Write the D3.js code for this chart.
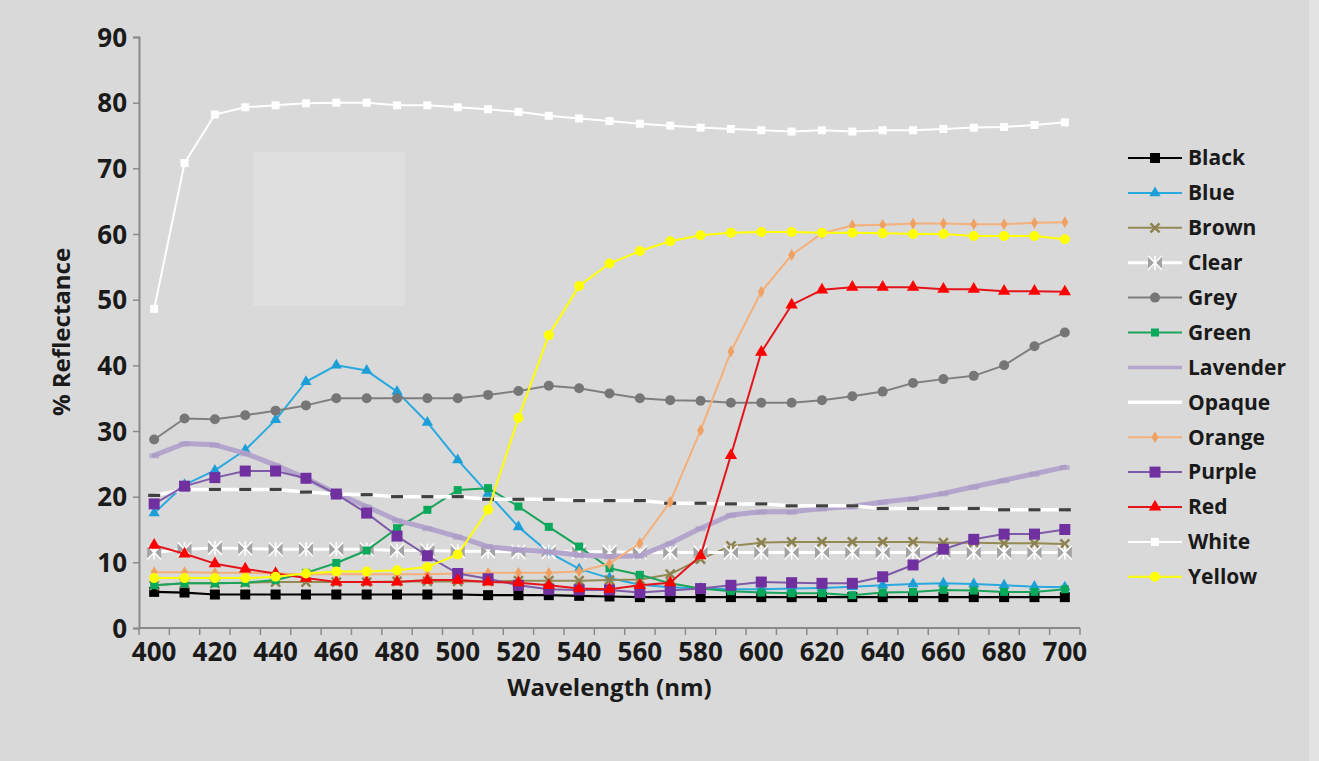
<!DOCTYPE html>
<html>
<head>
<meta charset="utf-8">
<script src="https://cdn.jsdelivr.net/npm/d3@7"></script>
<style>
  html, body { margin: 0; padding: 0; background: #d9d9d9; }
  svg { display: block; }
  text { font-family: "Open Sans", "DejaVu Sans", sans-serif; font-weight: 700; fill: #1a1a1a; }
</style>
</head>
<body>
<svg id="chart" width="1319" height="761"></svg>
<script>
// ---------------- DATA ----------------
const wavelengths = [400,410,420,430,440,450,460,470,480,490,500,510,520,530,540,550,560,570,580,590,600,610,620,630,640,650,660,670,680,690,700];
const xTickLabels = [400,420,440,460,480,500,520,540,560,580,600,620,640,660,680,700];
const yTicks = [0,10,20,30,40,50,60,70,80,90];
const seriesNames = ["Black","Blue","Brown","Clear","Grey","Green","Lavender","Opaque","Orange","Purple","Red","White","Yellow"];

const black    = [5.5,5.4,5.1,5.1,5.1,5.1,5.1,5.1,5.1,5.1,5.1,5.0,5.0,5.0,4.9,4.8,4.7,4.7,4.7,4.7,4.7,4.7,4.7,4.7,4.7,4.7,4.7,4.7,4.7,4.7,4.7];
const blue     = [17.5,21.8,24.0,27.1,31.7,37.5,40.0,39.2,36.0,31.3,25.6,20.5,15.4,11.5,9.0,7.6,6.6,6.2,6.0,5.9,5.9,6.0,6.1,6.3,6.5,6.7,6.8,6.7,6.5,6.3,6.2];
const brown    = [6.5,6.8,6.8,6.9,7.0,7.0,7.0,7.0,7.1,7.1,7.1,7.1,7.2,7.2,7.2,7.3,7.4,8.2,10.5,12.5,13.0,13.1,13.1,13.1,13.1,13.1,13.0,13.0,12.9,12.9,12.8];
const clear    = [11.5,12.0,12.2,12.1,12.0,12.0,12.0,12.0,11.8,11.8,11.7,11.7,11.6,11.6,11.6,11.6,11.5,11.5,11.5,11.5,11.5,11.5,11.5,11.5,11.5,11.5,11.5,11.5,11.5,11.5,11.5];
const grey     = [28.7,31.9,31.8,32.4,33.1,33.9,35.0,35.0,35.0,35.0,35.0,35.5,36.1,36.9,36.5,35.7,35.0,34.7,34.6,34.3,34.3,34.3,34.7,35.3,36.0,37.3,37.9,38.4,40.0,42.9,45.0];
const green    = [6.5,6.8,6.8,6.9,7.3,8.4,9.9,11.8,15.2,18.0,21.0,21.3,18.5,15.4,12.4,9.1,8.1,6.8,6.0,5.6,5.4,5.3,5.3,5.0,5.4,5.5,5.8,5.7,5.5,5.5,5.9];
const lavender = [26.3,28.1,27.9,26.6,24.8,22.8,20.5,18.5,16.4,15.2,13.9,12.4,11.9,11.6,11.1,10.9,11.0,12.9,15.2,17.2,17.7,17.7,18.2,18.5,19.2,19.7,20.5,21.5,22.5,23.5,24.5];
const opaque   = [20.2,21.1,21.1,21.1,21.1,20.7,20.4,20.3,20.0,20.0,20.0,19.6,19.6,19.6,19.4,19.4,19.4,19.0,19.0,18.9,18.9,18.6,18.6,18.6,18.2,18.2,18.2,18.2,18.0,18.0,18.0];
const orange   = [8.5,8.5,8.4,8.4,8.3,8.2,8.2,8.2,8.2,8.2,8.3,8.4,8.4,8.4,8.6,9.8,12.9,19.2,30.1,42.1,51.2,56.8,60.1,61.3,61.4,61.6,61.6,61.5,61.5,61.7,61.8];
const purple   = [18.9,21.6,22.9,23.9,23.9,22.8,20.4,17.5,14.0,11.0,8.3,7.5,6.5,5.9,5.8,5.8,5.4,5.7,6.0,6.5,7.0,6.9,6.8,6.8,7.8,9.6,12.0,13.5,14.3,14.3,15.0];
const red      = [12.6,11.3,9.8,9.0,8.3,7.6,7.0,7.0,7.0,7.3,7.3,7.0,6.9,6.5,6.0,5.9,6.5,6.9,11.0,26.3,42.0,49.2,51.5,51.9,51.9,51.9,51.6,51.6,51.3,51.3,51.2];
const white    = [48.6,70.8,78.2,79.3,79.6,79.9,80.0,80.0,79.6,79.6,79.3,79.0,78.6,78.0,77.6,77.2,76.8,76.5,76.2,76.0,75.8,75.6,75.8,75.6,75.8,75.8,76.0,76.2,76.3,76.6,77.0];
const yellow   = [7.6,7.6,7.6,7.6,7.8,8.3,8.6,8.6,8.8,9.3,11.2,18.0,32.0,44.6,52.1,55.5,57.4,58.9,59.8,60.2,60.3,60.3,60.2,60.2,60.1,60.0,60.0,59.7,59.7,59.7,59.2];

const seriesValues = [black, blue, brown, clear, grey, green, lavender, opaque, orange, purple, red, white, yellow];

// ---------------- STYLES ----------------
const styles = {
  Black:    {line:"#000000", lw:2.2, marker:"square",   mfill:"#000000", ms:10},
  Blue:     {line:"#2aa9df", lw:2,   marker:"triangle", mfill:"#1c9fd9", ms:10},
  Brown:    {line:"#948a54", lw:2,   marker:"x",        mfill:"#8c8250", ms:9},
  Clear:    {line:"#ffffff", lw:3,   marker:"star",     mfill:"#a3a3a3", ms:14},
  Grey:     {line:"#7f7f7f", lw:2,   marker:"circle",   mfill:"#767676", ms:10},
  Green:    {line:"#1aa35a", lw:2,   marker:"square",   mfill:"#0aa85a", ms:8},
  Lavender: {line:"#b3a5cc", lw:5,   marker:"none",     mfill:"#a999c4", ms:0},
  Opaque:   {line:"#ffffff", lw:3.5, marker:"dash",     mfill:"#404040", ms:12},
  Orange:   {line:"#f5b07a", lw:2,   marker:"diamond",  mfill:"#f0a060", ms:9},
  Purple:   {line:"#7e5aa8", lw:2,   marker:"square",   mfill:"#7030a0", ms:11},
  Red:      {line:"#e4141c", lw:2,   marker:"triangle", mfill:"#ff0000", ms:11},
  White:    {line:"#ffffff", lw:2,   marker:"square",   mfill:"#ffffff", ms:8},
  Yellow:   {line:"#ffff00", lw:2,   marker:"circle",   mfill:"#ffff00", ms:10}
};

// ---------------- CHART ----------------
const svg = d3.select("#chart");
const W = 1319, H = 761;
const plot = {left:139, right:1080, top:37, bottom:628};

svg.append("rect").attr("x",0).attr("y",0).attr("width",W).attr("height",H).attr("fill","#d9d9d9");
svg.append("rect").attr("x",1309).attr("y",0).attr("width",10).attr("height",H).attr("fill","#e3e3e3");
// faint lighter patch visible in the reference
svg.append("rect").attr("x",253).attr("y",152).attr("width",152).attr("height",154).attr("fill","#dfdfdf");

const x = d3.scaleBand().domain(wavelengths).range([plot.left, plot.right]).paddingInner(0).paddingOuter(0);
const cx = d => x(d) + x.bandwidth()/2;
const y = d3.scaleLinear().domain([0,90]).range([plot.bottom, plot.top]);

// Y axis
const yAxis = d3.axisLeft(y).tickValues(yTicks).tickSize(6).tickPadding(6).tickFormat(d3.format("d"));
const gy = svg.append("g").attr("transform",`translate(${plot.left},0)`).call(yAxis);
gy.select(".domain").attr("stroke","#8a8a8a").attr("stroke-width",2);
gy.selectAll(".tick line").attr("stroke","#8a8a8a").attr("stroke-width",1.5);
gy.selectAll(".tick text").attr("font-size",26).attr("font-family","'Open Sans', sans-serif").attr("font-weight",700).attr("fill","#1a1a1a").attr("dy","0.35em");

// X axis: ticks at category boundaries, labels every 20 nm
const gx = svg.append("g").attr("transform",`translate(0,${plot.bottom})`);
gx.append("line").attr("x1",plot.left).attr("x2",plot.right).attr("y1",0).attr("y2",0).attr("stroke","#8a8a8a").attr("stroke-width",2);
const bounds = wavelengths.map(w => x(w)).concat([plot.right]);
gx.selectAll("line.tk").data(bounds).enter().append("line").attr("class","tk")
  .attr("x1",d=>d).attr("x2",d=>d).attr("y1",0).attr("y2",7).attr("stroke","#8a8a8a").attr("stroke-width",1.5);
gx.selectAll("text.lbl").data(xTickLabels).enter().append("text").attr("class","lbl")
  .attr("x",d=>cx(d)).attr("y",33).attr("text-anchor","middle").attr("font-size",26).text(d=>d);

// Axis titles
svg.append("text").attr("x",(plot.left+plot.right)/2).attr("y",696).attr("text-anchor","middle").attr("font-size",24).text("Wavelength (nm)");
svg.append("text").attr("transform","translate(70,332) rotate(-90)").attr("text-anchor","middle").attr("font-size",24).text("% Reflectance");

// marker drawing
function drawMarker(g, st, px, py) {
  const s = st.ms;
  switch (st.marker) {
    case "square":
      g.append("rect").attr("x",px-s/2).attr("y",py-s/2).attr("width",s).attr("height",s).attr("fill",st.mfill);
      break;
    case "triangle":
      g.append("path").attr("d", d3.symbol(d3.symbolTriangle, s*s*0.55)()).attr("transform",`translate(${px},${py})`).attr("fill",st.mfill);
      break;
    case "circle":
      g.append("circle").attr("cx",px).attr("cy",py).attr("r",s/2).attr("fill",st.mfill);
      break;
    case "diamond":
      g.append("path").attr("d", d3.symbol(d3.symbolDiamond, s*s*0.5)()).attr("transform",`translate(${px},${py})`).attr("fill",st.mfill);
      break;
    case "x":
      g.append("path").attr("d",`M${px-s/2},${py-s/2}L${px+s/2},${py+s/2}M${px-s/2},${py+s/2}L${px+s/2},${py-s/2}`).attr("stroke",st.mfill).attr("stroke-width",2.5);
      break;
    case "star": {
      const h = s/2;
      g.append("path").attr("d",`M${px-h},${py-h}L${px-1},${py}L${px-h},${py+h}Z M${px+h},${py-h}L${px+1},${py}L${px+h},${py+h}Z`).attr("fill",st.mfill);
      g.append("path").attr("d",`M${px},${py-h}L${px},${py+h}M${px-h},${py-h}L${px+h},${py+h}M${px-h},${py+h}L${px+h},${py-h}`).attr("stroke","#ffffff").attr("stroke-width",1.6);
      break;
    }
    case "dash":
      g.append("rect").attr("x",px-s/2).attr("y",py-1.6).attr("width",s).attr("height",3.2).attr("fill",st.mfill);
      break;
  }
}

const line = d3.line().x((d,i)=>cx(wavelengths[i])).y(d=>y(d));
const plotG = svg.append("g");
seriesNames.forEach((name, k) => {
  const st = styles[name];
  const vals = seriesValues[k];
  const g = plotG.append("g").attr("class","series");
  g.append("path").datum(vals).attr("d",line).attr("fill","none").attr("stroke",st.line)
    .attr("stroke-width",st.lw).attr("stroke-linejoin","round").attr("stroke-linecap","round");
  if (name === "Lavender") {
    vals.forEach((v,i) => {
      g.append("rect").attr("x",cx(wavelengths[i])-5).attr("y",y(v)-2).attr("width",10).attr("height",5).attr("fill",st.mfill).attr("opacity",0.6);
    });
  }
  vals.forEach((v,i) => drawMarker(g, st, cx(wavelengths[i]), y(v)));
});

// Legend
const leg = svg.append("g");
const legTop = 158, legStep = 34.9;
seriesNames.forEach((name,k) => {
  const st = styles[name];
  const ly = legTop + k*legStep;
  const g = leg.append("g");
  g.append("line").attr("x1",1128).attr("x2",1182).attr("y1",ly).attr("y2",ly).attr("stroke",st.line).attr("stroke-width",Math.min(st.lw,3.5));
  if (name !== "Opaque" && name !== "Lavender") drawMarker(g, st, 1155, ly);
  g.append("text").attr("x",1188).attr("y",ly).attr("dy","0.35em").attr("font-size",21).text(name);
});
</script>
</body>
</html>
